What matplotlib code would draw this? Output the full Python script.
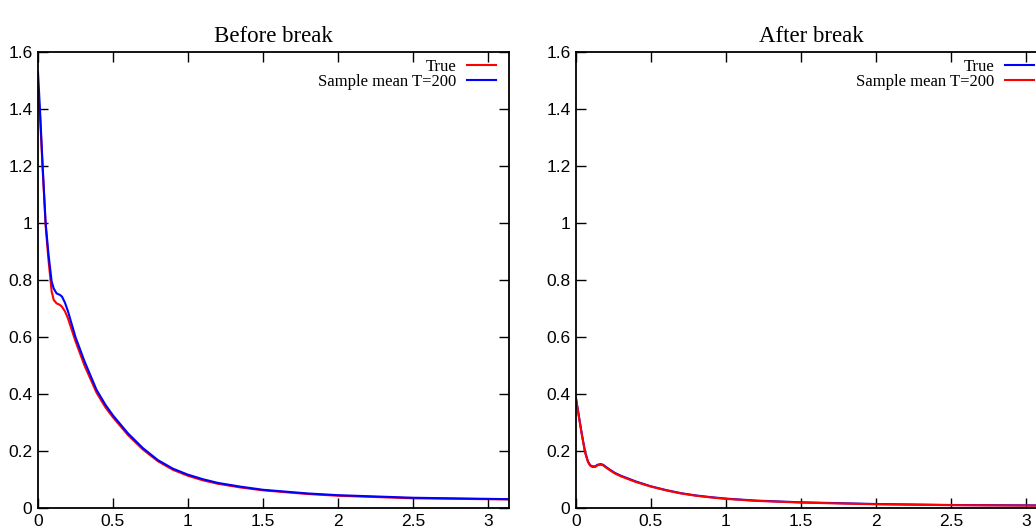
import matplotlib
matplotlib.use('Agg')
import matplotlib.pyplot as plt
from matplotlib import font_manager
from matplotlib.ticker import MultipleLocator, FormatStrFormatter
import numpy as np

# ---- data ----
x_before = [0, 0.013, 0.031, 0.051, 0.07, 0.091, 0.105, 0.124, 0.145, 0.16, 0.18, 0.2,
            0.25, 0.31, 0.39, 0.45, 0.5, 0.6, 0.7, 0.8, 0.9, 1.0, 1.1, 1.2, 1.35, 1.5,
            1.8, 2.0, 2.5, 3.1416]
true_before = [1.46, 1.38, 1.19, 0.99, 0.87, 0.76, 0.73, 0.718, 0.713, 0.706, 0.69, 0.665,
               0.585, 0.50, 0.405, 0.353, 0.318, 0.256, 0.205, 0.164, 0.134, 0.113, 0.097,
               0.085, 0.072, 0.062, 0.049, 0.043, 0.034, 0.030]
mean_before = [1.53, 1.40, 1.20, 1.00, 0.89, 0.795, 0.77, 0.753, 0.748, 0.742, 0.72, 0.69,
               0.60, 0.515, 0.415, 0.362, 0.325, 0.262, 0.21, 0.168, 0.138, 0.117, 0.101,
               0.088, 0.075, 0.064, 0.051, 0.045, 0.036, 0.031]

x_after = [0, 0.02, 0.038, 0.06, 0.08, 0.095, 0.11, 0.127, 0.145, 0.165, 0.18, 0.2, 0.23,
           0.26, 0.3, 0.34, 0.4, 0.5, 0.6, 0.7, 0.8, 0.9, 1.0, 1.2, 1.5, 2.0, 2.5, 3.1416]
true_after = [0.385, 0.32, 0.262, 0.198, 0.163, 0.150, 0.146, 0.146, 0.152, 0.154, 0.152,
              0.144, 0.133, 0.123, 0.113, 0.105, 0.093, 0.076, 0.063, 0.052, 0.044, 0.038,
              0.033, 0.026, 0.020, 0.014, 0.0105, 0.009]
mean_after = [0.383, 0.318, 0.26, 0.196, 0.161, 0.148, 0.144, 0.144, 0.150, 0.152, 0.150,
              0.142, 0.131, 0.121, 0.111, 0.103, 0.091, 0.075, 0.062, 0.051, 0.043, 0.037,
              0.032, 0.025, 0.019, 0.013, 0.010, 0.008]

legend_label = 'Sample mean T=200'


def pickFont(names):
    avail = set(f.name for f in font_manager.fontManager.ttflist)
    for n in names:
        if n in avail:
            return n
    return 'DejaVu Sans'


tickFont = pickFont(['Liberation Sans Narrow', 'Liberation Sans'])
textFont = pickFont(['Liberation Serif', 'DejaVu Serif'])

W, H = 1036, 530
fig = plt.figure(figsize=(W / 100, H / 100), dpi=100)

ax_left = fig.add_axes([38 / W, 22 / H, 471 / W, 456 / H])
ax_right = fig.add_axes([576 / W, 22 / H, 471 / W, 456 / H])


def styleAxes(ax, title):
    ax.set_xlim(0, np.pi)
    ax.set_ylim(0, 1.6)
    ax.xaxis.set_major_locator(MultipleLocator(0.5))
    ax.yaxis.set_major_locator(MultipleLocator(0.2))
    ax.xaxis.set_major_formatter(FormatStrFormatter('%g'))
    ax.yaxis.set_major_formatter(FormatStrFormatter('%g'))
    ax.tick_params(direction='in', length=7, width=1, top=True, right=True,
                   labelsize=12.5, pad=4)
    for lab in ax.get_xticklabels() + ax.get_yticklabels():
        lab.set_family(tickFont)
    for s in ax.spines.values():
        s.set_linewidth(1.3)
    ax.set_title(title, family=textFont, fontsize=16.5, pad=7)
    leg = ax.legend(loc='upper right', bbox_to_anchor=(0.972, 0.985), frameon=False,
                    markerfirst=False, handlelength=1.75, handletextpad=0.6,
                    labelspacing=-0.05, borderaxespad=0, borderpad=0,
                    prop={'family': textFont, 'size': 12})
    return leg


ax_left.plot(x_before, true_before, color='#ff0000', lw=1.5, label='True')
ax_left.plot(x_before, mean_before, color='#0000ff', lw=1.5, label=legend_label)
styleAxes(ax_left, 'Before break')

ax_right.plot(x_after, true_after, color='#0000ff', lw=1.5, label='True')
ax_right.plot(x_after, mean_after, color='#ff0000', lw=1.5, label=legend_label)
styleAxes(ax_right, 'After break')

fig.savefig('out.png', dpi=100)
